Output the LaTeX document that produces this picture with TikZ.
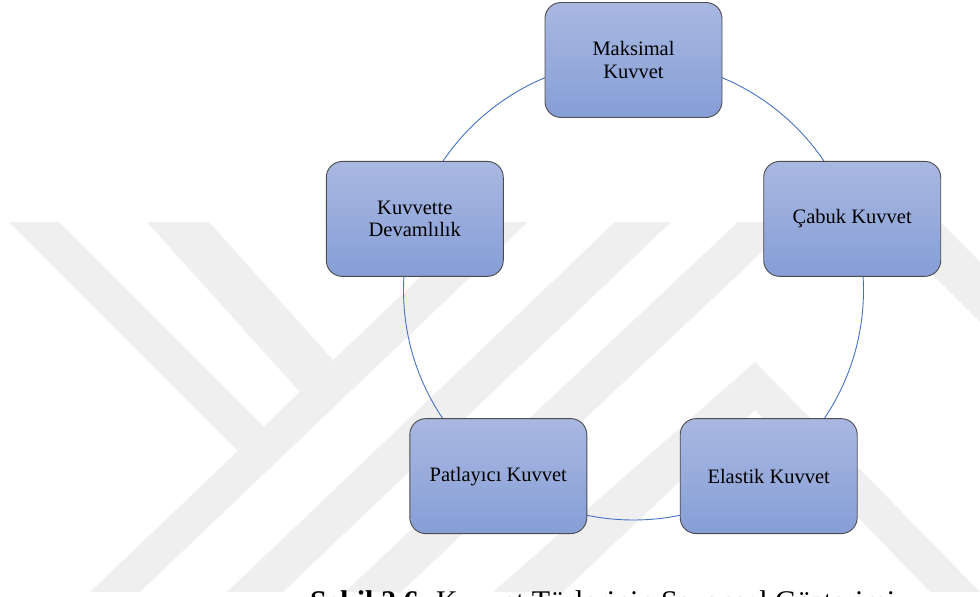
\documentclass[tikz,border=0pt]{standalone}
\usepackage{fontspec}
\setmainfont{Liberation Serif}
\definecolor{cycblue}{HTML}{4472C4}
\definecolor{boxtop}{HTML}{A9B8E1}
\definecolor{boxbot}{HTML}{869ED6}
\definecolor{boxline}{HTML}{4D4D4D}
\definecolor{wm}{HTML}{EFEFEF}
\tikzset{
  cyc/.style={draw=cycblue, line width=0.9pt},
  forcebox/.style={rectangle, rounded corners=16pt, minimum width=177pt, minimum height=115pt,
    top color=boxtop, bottom color=boxbot, draw=boxline, line width=0.9pt,
    align=center, inner sep=2pt, font=\fontsize{20.5}{22.5}\selectfont},
  wmark/.style={fill=wm, draw=none},
  caption/.style={anchor=base west, inner sep=0pt, font=\fontsize{30}{34}\selectfont}
}
\begin{document}
\begin{tikzpicture}[x=1pt, y=-1pt]
\useasboundingbox (0,0) rectangle (980,597);
\clip (0,0) rectangle (980,597);
\fill[white] (0,0) rectangle (980,597);
% watermark
\fill[wmark] (90,592) -- (140,592) -- (528,222) -- (478,222) -- cycle;
\fill[wmark] (9,222) -- (59,222) -- (263.5,426.5) -- (237.9,450.9) -- cycle;
\fill[wmark] (147,222) -- (209,222) -- (333,360) -- (299.8,391.8) -- cycle;
\fill[wmark] (227,592) -- (283,592) -- (671,222) -- (615,222) -- cycle;
\fill[wmark] (345,592) -- (401,592) -- (794,222) -- (738,222) -- cycle;
\fill[wmark] (493,592) -- (563,592) -- (755,410) -- (930,592) -- (980,592) -- (755,362) -- cycle;
\fill[wmark] (880,222) -- (940,222) -- (980,262) -- (980,322) -- cycle;
% cycle
\coordinate (ctr) at (633.5,290);
\draw[cyc] (ctr) circle[radius=230];
\node[forcebox] (maks) at (633.5,60) {Maksimal\\Kuvvet};
\node[forcebox] (cabuk) at (852.2,218.9) {Çabuk Kuvvet};
\node[forcebox] (elas) at (768.7,476.1) {Elastik Kuvvet};
\node[forcebox] (patl) at (498.3,476.1) {Patlayıcı Kuvvet};
\node[forcebox] (dev) at (414.8,218.9) {Kuvvette\\Devamlılık};
\node[caption] (cap) at (310,611) {\textbf{Şekil 2.6.} Kuvvet Türlerinin Sezonsal Gösterimi};
\end{tikzpicture}
\end{document}
